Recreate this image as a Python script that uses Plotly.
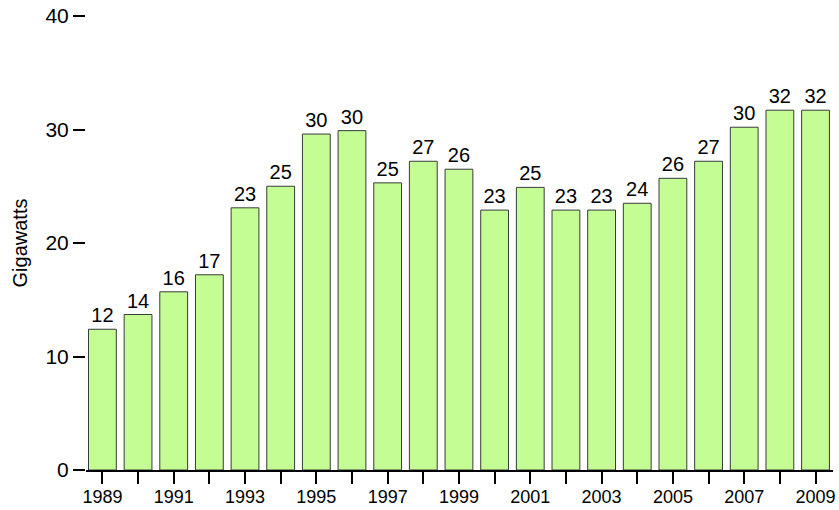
import plotly.graph_objects as go

years = list(range(1989, 2010))
gigawatts = [12.4, 13.7, 15.7, 17.2, 23.1, 25.0, 29.6, 29.9, 25.3, 27.2, 26.5,
             22.9, 24.9, 22.9, 22.9, 23.5, 25.7, 27.2, 30.2, 31.7, 31.7]
labels = [12, 14, 16, 17, 23, 25, 30, 30, 25, 27, 26, 23, 25, 23, 23, 24, 26, 27, 30, 32, 32]
x_tick_vals = years
x_tick_text = [str(y) if (y - 1989) % 2 == 0 else "" for y in years]
y_tick_vals = [0, 10, 20, 30, 40]

FONT = "Liberation Sans, Arial, Helvetica, sans-serif"

fig = go.Figure(go.Bar(
    x=years, y=gigawatts,
    text=[str(v) for v in labels],
    textposition="outside",
    textfont=dict(size=20, color="black", family=FONT),
    marker=dict(color="#c3fd93", line=dict(color="#3a3a3a", width=1)),
    width=0.78,
    cliponaxis=False,
))

fig.update_layout(
    width=839, height=510,
    autosize=False,
    margin=dict(l=86, r=6, t=16, b=40, autoexpand=False),
    paper_bgcolor="white", plot_bgcolor="white",
    font=dict(family=FONT, size=19, color="black"),
    showlegend=False,
    uniformtext=dict(minsize=18, mode="show"),
    xaxis=dict(
        range=[1988.54, 2009.49],
        tickvals=x_tick_vals, ticktext=x_tick_text,
        ticks="outside", ticklen=12, tickwidth=2, tickcolor="black",
        showline=True, linecolor="black", linewidth=2,
        showgrid=False, zeroline=False, automargin=False,
        tickfont=dict(size=18), ticklabelstandoff=-3,
    ),
    yaxis=dict(
        range=[0, 40],
        tickvals=y_tick_vals,
        ticks="outside", ticklen=12, tickwidth=2, tickcolor="black",
        showline=False, showgrid=False, zeroline=False, automargin=False,
        tickfont=dict(size=21),
        title=dict(text="Gigawatts", font=dict(size=20), standoff=12),
    ),
)

fig.write_html("out.html", config={"displayModeBar": False},
               post_script="document.body.style.margin='0';")
